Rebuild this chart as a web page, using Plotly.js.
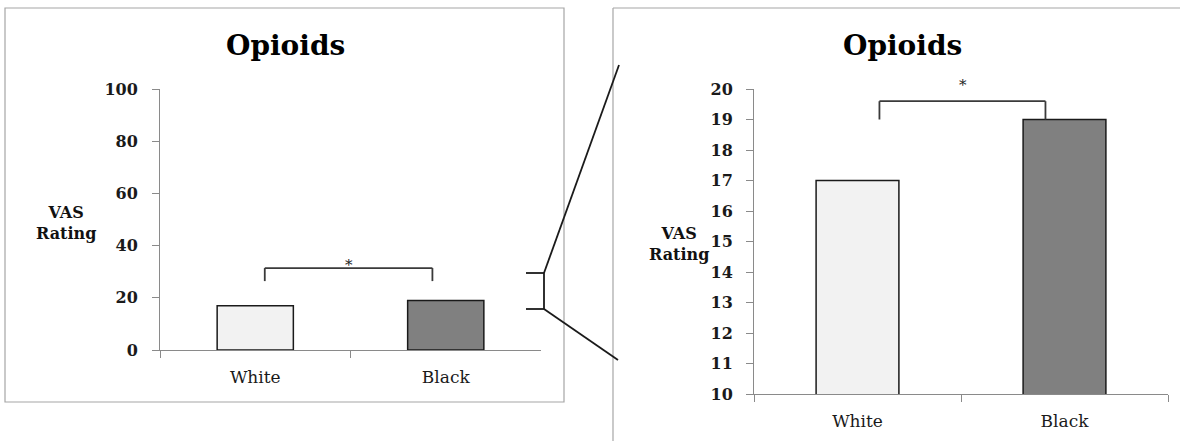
<!DOCTYPE html>
<html>
<head>
<meta charset="utf-8">
<script src="https://cdn.plot.ly/plotly-3.0.1.min.js"></script>
<style>html,body{margin:0;padding:0;background:#fff;}#chart{width:1180px;height:441px;}</style>
</head>
<body>
<div id="chart"></div>
<script>
// ---- data ----
var categories = ['White', 'Black'];
var vasRatings = [17, 19];
var barColors = ['#f2f2f2', '#808080'];
var fullRange = [0, 100];
var fullTicks = [0, 20, 40, 60, 80, 100];
var zoomRange = [10, 20];
var zoomTicks = [10, 11, 12, 13, 14, 15, 16, 17, 18, 19, 20];
var chartTitle = 'Opioids';
var yLabel = 'VAS<br>Rating';
// significance bracket levels [bottom, top] and x extents (category index)
var bracketFullY = [26.4, 31.4];
var bracketFullX = [0.05, 0.93];
var bracketZoomY = [19.0, 19.6];
var bracketZoomX = [0.106, 0.908];
var asteriskFullY = 32.6;
var asteriskZoomY = 19.99;

var W = 1180, H = 441;
function px(x){ return x / W; }
function py(y){ return 1 - y / H; }

var serif = 'DejaVu Serif, serif';
var axisGray = '#8a8a8a';

var traces = [
  {type:'bar', x:categories, y:vasRatings, xaxis:'x', yaxis:'y', width:0.4,
   marker:{color:barColors, line:{color:'#1a1a1a', width:1.5}}, hoverinfo:'skip'},
  {type:'bar', x:categories, y:vasRatings, xaxis:'x2', yaxis:'y2', width:0.4,
   marker:{color:barColors, line:{color:'#1a1a1a', width:1.5}}, hoverinfo:'skip'}
];

function xAx(domain){
  return {domain:domain, type:'category', range:[-0.5,1.5], showline:true, linecolor:axisGray, linewidth:1,
    ticks:'outside', tickson:'boundaries', ticklen:7, tickcolor:axisGray, showgrid:false, zeroline:false,
    tickfont:{family:serif, size:17, color:'#1a1a1a'}, ticklabelstandoff:12, fixedrange:true};
}
function yAx(domain, range, ticks, standoff){
  return {domain:domain, range:range, tickvals:ticks, showline:true, linecolor:axisGray, linewidth:1,
    ticks:'outside', ticklen:7, tickcolor:axisGray, showgrid:false, zeroline:false,
    tickfont:{family:serif, size:16, color:'#1a1a1a', weight:'bold'}, ticklabelstandoff:standoff, fixedrange:true};
}

var layout = {
  width:W, height:H, margin:{l:0,r:0,t:0,b:0}, showlegend:false,
  paper_bgcolor:'#ffffff', plot_bgcolor:'rgba(0,0,0,0)',
  xaxis: Object.assign(xAx([px(160), px(541)]), {anchor:'y'}),
  yaxis: Object.assign(yAx([py(350), py(89)], fullRange, fullTicks, 11), {anchor:'x'}),
  xaxis2: Object.assign(xAx([px(754), px(1168)]), {anchor:'y2'}),
  yaxis2: Object.assign(yAx([py(394), py(89)], zoomRange, zoomTicks, 10), {anchor:'x2'}),
  shapes: [],
  annotations: []
};

// frames
var frameCol = '#a6a6a6';
layout.shapes.push({type:'rect', xref:'paper', yref:'paper', x0:px(5), x1:px(564), y0:py(402), y1:py(8),
  line:{color:frameCol, width:1.2}, fillcolor:'rgba(0,0,0,0)', layer:'below'});
layout.shapes.push({type:'line', xref:'paper', yref:'paper', x0:px(613), x1:px(1180), y0:py(8), y1:py(8), line:{color:frameCol, width:1.2}});
layout.shapes.push({type:'line', xref:'paper', yref:'paper', x0:px(613), x1:px(613), y0:py(8), y1:py(441), line:{color:frameCol, width:1.2}});

// brackets
function bracket(xr, yr, bx, by){
  var c = {color:'#3a3a3a', width:1.8};
  layout.shapes.push({type:'line', xref:xr, yref:yr, x0:bx[0], x1:bx[1], y0:by[1], y1:by[1], line:c});
  layout.shapes.push({type:'line', xref:xr, yref:yr, x0:bx[0], x1:bx[0], y0:by[0], y1:by[1], line:c});
  layout.shapes.push({type:'line', xref:xr, yref:yr, x0:bx[1], x1:bx[1], y0:by[0], y1:by[1], line:c});
}
bracket('x', 'y', bracketFullX, bracketFullY);
bracket('x2', 'y2', bracketZoomX, bracketZoomY);

// zoom connector
var zc = {color:'#1a1a1a', width:1.8};
[[526,273,544,273],[526,309,544,309],[544,273,544,309],[544,273,619,65],[544,309,618,360]].forEach(function(s){
  layout.shapes.push({type:'line', xref:'paper', yref:'paper', x0:px(s[0]), y0:py(s[1]), x1:px(s[2]), y1:py(s[3]), line:zc});
});

// titles
layout.annotations.push({xref:'paper', yref:'paper', x:px(285), y:py(45), text:'<b>'+chartTitle+'</b>', showarrow:false,
  font:{family:serif, size:28, color:'#000'}, xanchor:'center', yanchor:'middle'});
layout.annotations.push({xref:'paper', yref:'paper', x:px(902), y:py(45), text:'<b>'+chartTitle+'</b>', showarrow:false,
  font:{family:serif, size:28, color:'#000'}, xanchor:'center', yanchor:'middle'});
// y labels
layout.annotations.push({xref:'paper', yref:'paper', x:px(66), y:py(223), text:'<b>'+yLabel+'</b>', showarrow:false,
  font:{family:serif, size:16, color:'#111'}, xanchor:'center', yanchor:'middle', align:'center'});
layout.annotations.push({xref:'paper', yref:'paper', x:px(679), y:py(244), text:'<b>'+yLabel+'</b>', showarrow:false,
  font:{family:serif, size:16, color:'#111'}, xanchor:'center', yanchor:'middle', align:'center'});
// asterisks
layout.annotations.push({xref:'x', yref:'y', x:0.49, y:asteriskFullY, text:'*', showarrow:false,
  font:{family:serif, size:15, color:'#222'}, yanchor:'middle'});
layout.annotations.push({xref:'x2', yref:'y2', x:0.51, y:asteriskZoomY, yshift:4, text:'*', showarrow:false,
  font:{family:serif, size:15, color:'#222'}, yanchor:'middle'});

Plotly.newPlot('chart', traces, layout, {displayModeBar:false, staticPlot:true});
</script>
</body>
</html>
